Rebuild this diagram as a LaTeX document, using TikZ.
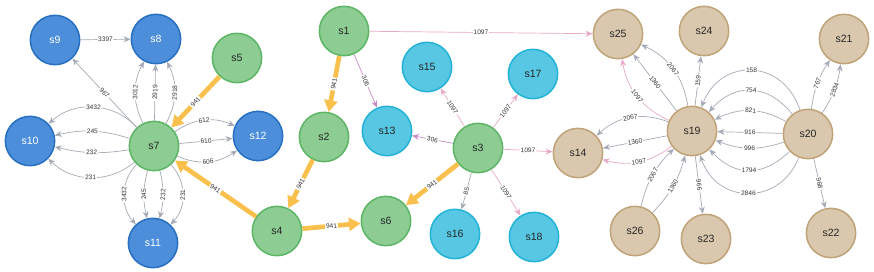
\documentclass[tikz,border=0pt]{standalone}
\usepackage{fontspec}
\setmainfont{Liberation Sans}
\usepackage{xcolor}
\usepackage{tikz}
\usetikzlibrary{arrows.meta}

\definecolor{nblue}{HTML}{4C8EDA}
\definecolor{nblueline}{HTML}{2870C2}
\definecolor{ngreen}{HTML}{8DCC93}
\definecolor{ngreenline}{HTML}{5DB665}
\definecolor{ncyan}{HTML}{57C7E3}
\definecolor{ncyanline}{HTML}{23B3D7}
\definecolor{ntan}{HTML}{D9C8AE}
\definecolor{ntanline}{HTML}{C0A378}
\definecolor{relgray}{HTML}{A5ABB6}
\definecolor{relorange}{HTML}{F9C04D}
\definecolor{relpink}{HTML}{E8A8C8}
\definecolor{relmauve}{HTML}{C98BC4}

\begin{document}
\begin{tikzpicture}[x=0.03cm, y=0.03cm,
    % Styles
    ent/.style={circle, draw, line width=1.3pt, minimum size=1.48cm, inner sep=0pt,
                font=\fontsize{9}{10}\selectfont, text=black!85},
    blueent/.style={ent, fill=nblue, draw=nblueline, text=white},
    greenent/.style={ent, fill=ngreen, draw=ngreenline},
    cyanent/.style={ent, fill=ncyan, draw=ncyanline},
    tanent/.style={ent, fill=ntan, draw=ntanline},
    rel/.style={draw=relgray, line width=0.6pt, -{Stealth[length=6pt, width=5pt]}},
    pinkrel/.style={rel, draw=relpink},
    mauverel/.style={rel, draw=relmauve},
    hotrel/.style={draw=relorange, line width=4pt, -{Triangle[length=10pt, width=11pt]}},
    lbl/.style={font=\fontsize{5.6}{6}\selectfont, fill=white, inner sep=0.8pt, sloped, text=black!80}
  ]
    \useasboundingbox (0,0) rectangle (874,271);

    % === Left cluster ===
    \node[blueent] (s9) at (55,231) {s9};
    \node[blueent] (s8) at (156,232) {s8};
    \node[greenent] (s5) at (237,213) {s5};
    \node[greenent] (s7) at (154,125) {s7};
    \node[blueent] (s10) at (30,130) {s10};
    \node[blueent] (s12) at (258,135) {s12};
    \node[blueent] (s11) at (153,28) {s11};
    \node[greenent] (s4) at (277,40) {s4};

    % === Middle cluster ===
    \node[greenent] (s1) at (344,240) {s1};
    \node[greenent] (s2) at (324,134) {s2};
    \node[cyanent] (s13) at (387,140) {s13};
    \node[cyanent] (s15) at (427,204) {s15};
    \node[cyanent] (s17) at (533,197) {s17};
    \node[greenent] (s3) at (478,123) {s3};
    \node[greenent] (s6) at (386,50) {s6};
    \node[cyanent] (s16) at (455,37) {s16};
    \node[cyanent] (s18) at (534,34) {s18};

    % === Right cluster ===
    \node[tanent] (s25) at (618,237) {s25};
    \node[tanent] (s24) at (704,240) {s24};
    \node[tanent] (s21) at (844,232) {s21};
    \node[tanent] (s19) at (692,140) {s19};
    \node[tanent] (s20) at (808,137) {s20};
    \node[tanent] (s14) at (578,118) {s14};
    \node[tanent] (s26) at (635,40) {s26};
    \node[tanent] (s23) at (706,32) {s23};
    \node[tanent] (s22) at (831,38) {s22};

    % === Relations from s7 ===
    \draw[rel] (s9) -- node[lbl] {3397} (s8);
    \draw[rel] (s7) -- node[lbl] {967} (s9);
    \draw[rel] (s7) to[bend left=27] node[lbl] {3012} (s8);
    \draw[rel] (s7) -- node[lbl] {2919} (s8);
    \draw[rel] (s7) to[bend right=27] node[lbl] {2918} (s8);
    \draw[rel] (s7) to[bend right=45] node[lbl] {3432} (s10);
    \draw[rel] (s7) to[bend right=15] node[lbl] {245} (s10);
    \draw[rel] (s7) to[bend left=11] node[lbl] {232} (s10);
    \draw[rel] (s7) to[bend left=42] node[lbl] {231} (s10);
    \draw[rel] (s7) to[bend left=29] node[lbl] {612} (s12);
    \draw[rel] (s7) -- node[lbl] {610} (s12);
    \draw[rel] (s7) to[bend right=29] node[lbl] {606} (s12);
    \draw[rel] (s7) to[bend right=43] node[lbl] {3432} (s11);
    \draw[rel] (s7) to[bend right=14] node[lbl] {245} (s11);
    \draw[rel] (s7) to[bend left=14] node[lbl] {232} (s11);
    \draw[rel] (s7) to[bend left=43] node[lbl] {231} (s11);

    % === Main path (941) ===
    \draw[hotrel] (s5) -- node[lbl] {941} (s7);
    \draw[hotrel] (s4) -- node[lbl] {941} (s7);
    \draw[hotrel] (s1) -- node[lbl] {941} (s2);
    \draw[hotrel] (s2) -- node[lbl] {941} (s4);
    \draw[hotrel] (s4) -- node[lbl] {941} (s6);
    \draw[hotrel] (s3) -- node[lbl] {941} (s6);

    % === Relations from s1 and s3 ===
    \draw[mauverel] (s1) -- node[lbl] {306} (s13);
    \draw[pinkrel] (s1) -- node[lbl] {1097} (s25);
    \draw[mauverel] (s3) -- node[lbl] {306} (s13);
    \draw[pinkrel] (s3) -- node[lbl] {1097} (s15);
    \draw[pinkrel] (s3) -- node[lbl] {1097} (s17);
    \draw[rel] (s3) -- node[lbl] {85} (s16);
    \draw[pinkrel] (s3) -- node[lbl] {1097} (s18);
    \draw[pinkrel] (s3) -- node[lbl] {1097} (s14);

    % === Relations around s19 ===
    \draw[rel] (s19) to[bend right=28] node[lbl] {2067} (s25);
    \draw[rel] (s19) -- node[lbl] {1360} (s25);
    \draw[pinkrel] (s19) to[bend left=28] node[lbl] {1097} (s25);
    \draw[rel] (s19) -- node[lbl] {159} (s24);
    \draw[rel] (s19) to[bend right=32] node[lbl] {2067} (s14);
    \draw[rel] (s19) -- node[lbl] {1360} (s14);
    \draw[pinkrel] (s19) to[bend left=26] node[lbl] {1097} (s14);
    \draw[rel] (s26) to[bend left=16] node[lbl] {2067} (s19);
    \draw[rel] (s26) to[bend right=14] node[lbl] {1360} (s19);
    \draw[rel] (s19) -- node[lbl] {966} (s23);

    % === Relations from s20 ===
    \draw[rel] (s20) to[bend right=70, looseness=1.4] node[lbl] {158} (s19);
    \draw[rel] (s20) to[bend right=50, looseness=1.2] node[lbl] {754} (s19);
    \draw[rel] (s20) to[bend right=28] node[lbl] {821} (s19);
    \draw[rel] (s20) -- node[lbl] {916} (s19);
    \draw[rel] (s20) to[bend left=20] node[lbl] {996} (s19);
    \draw[rel] (s20) to[bend left=45, looseness=1.2] node[lbl] {1794} (s19);
    \draw[rel] (s20) to[bend left=70, looseness=1.35] node[lbl] {2846} (s19);
    \draw[rel] (s20) to[bend left=13] node[lbl] {767} (s21);
    \draw[rel] (s20) to[bend right=13] node[lbl] {2834} (s21);
    \draw[rel] (s20) -- node[lbl] {968} (s22);

  \end{tikzpicture}
\end{document}
